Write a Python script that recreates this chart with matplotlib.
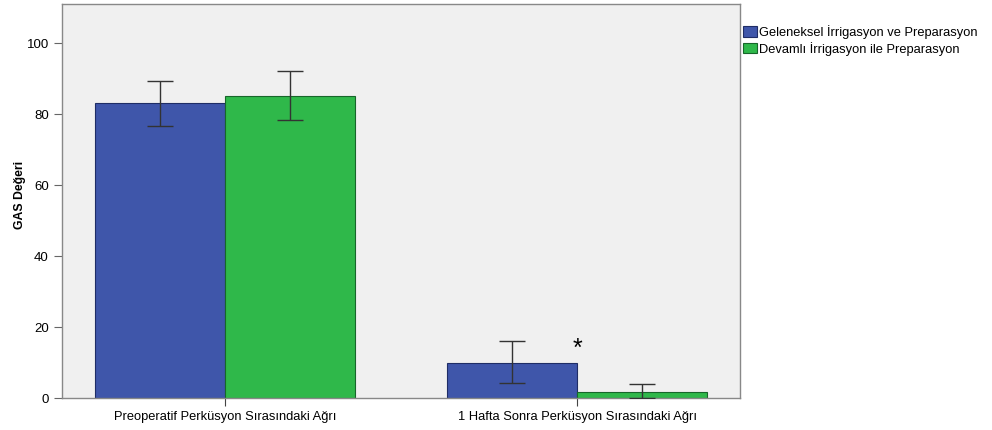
import matplotlib.pyplot as plt
import numpy as np

categories = ["Preoperatif Perküsyon Sırasındaki Ağrı", "1 Hafta Sonra Perküsyon Sırasındaki Ağrı"]
series_names = ["Geleneksel İrrigasyon ve Preparasyon", "Devamlı İrrigasyon ile Preparasyon"]
blue_vals = [83.1, 9.9]
blue_lo = [76.6, 4.2]
blue_hi = [89.3, 16.1]
green_vals = [85.1, 1.7]
green_lo = [78.3, 0.0]
green_hi = [92.1, 3.9]
yticks = [0, 20, 40, 60, 80, 100]
star_y = 13.8

plt.rcParams['font.family'] = ['Liberation Sans', 'DejaVu Sans']

fig = plt.figure(figsize=(9.92, 4.30), dpi=100)
ax = fig.add_axes([0.0625, 0.0744, 0.6835, 0.9163])
ax.set_facecolor('#f0f0f0')

x = np.arange(len(categories))
w = 0.369
colors = ['#3f56aa', '#2fb84a']
edges = ['#1f2d66', '#17662a']
for i, (vals, lo, hi) in enumerate([(blue_vals, blue_lo, blue_hi), (green_vals, green_lo, green_hi)]):
    pos = x + (i - 0.5) * w
    ax.bar(pos, vals, width=w, color=colors[i], edgecolor=edges[i], linewidth=0.8,
           label=series_names[i], zorder=2)
    vals = np.array(vals); lo = np.array(lo); hi = np.array(hi)
    ax.errorbar(pos, vals, yerr=[vals - lo, hi - vals], fmt='none', ecolor='#333333',
                elinewidth=1.0, capsize=9.3, capthick=1.0, zorder=3)

ax.text(x[1], star_y, '*', ha='center', va='center', fontsize=18, color='black')

ax.set_xlim(-0.463, 1.463)
ax.set_ylim(0, 111)
ax.set_yticks(yticks)
ax.set_xticks(x)
ax.set_xticklabels(categories, fontsize=9.3)
ax.tick_params(axis='y', labelsize=9.5, length=6, color='#666666')
ax.tick_params(axis='x', length=6, color='#444444')
ax.set_ylabel('GAS Değeri', fontsize=8.8, fontweight='bold')
ax.yaxis.set_label_coords(-0.053, 0.515)
for s in ax.spines.values():
    s.set_color('#888888')
    s.set_linewidth(1.0)

leg = ax.legend(loc='upper left', bbox_to_anchor=(1.0, 0.953), frameon=False, fontsize=9.3,
                handlelength=1.1, handleheight=0.9, handletextpad=0.15, labelspacing=0.2,
                borderaxespad=0.1, borderpad=0.1)

fig.savefig('out.png', dpi=100)
